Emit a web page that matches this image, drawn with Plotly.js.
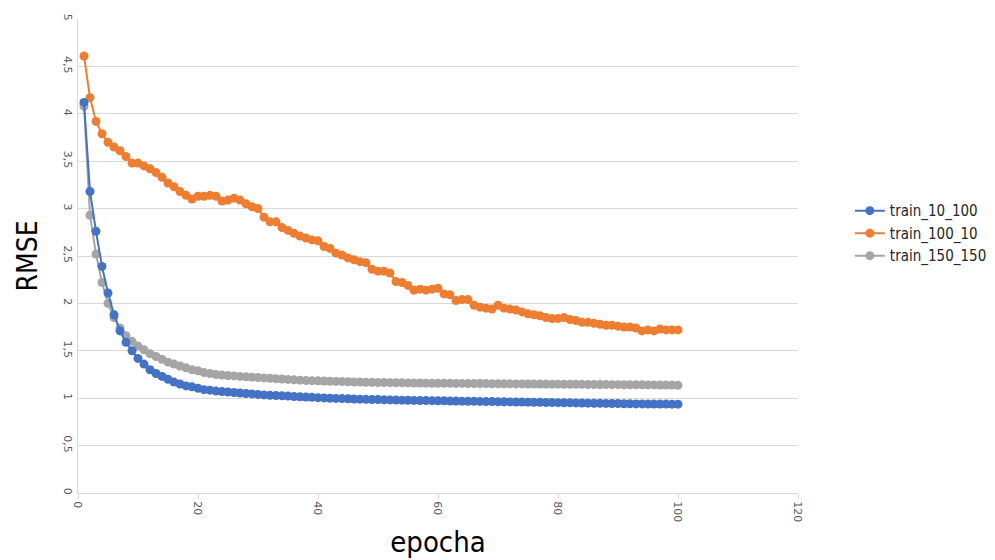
<!DOCTYPE html>
<html>
<head>
<meta charset="utf-8">
<script src="https://cdn.plot.ly/plotly-3.0.1.min.js"></script>
<style>html,body{margin:0;padding:0;background:#fff;}#chart{width:995px;height:560px;}</style>
</head>
<body>
<div id="chart"></div>
<script>
const epochs = Array.from({length: 100}, (_, i) => i + 1);

const train_10_100 = [
  4.12, 3.18, 2.76, 2.39, 2.11, 1.88, 1.71, 1.59, 1.50, 1.42,
  1.36, 1.30, 1.26, 1.23, 1.20, 1.17, 1.15, 1.13, 1.12, 1.105,
  1.09, 1.085, 1.075, 1.07, 1.065, 1.06, 1.055, 1.05, 1.045, 1.04,
  1.035, 1.03, 1.028, 1.025, 1.022, 1.018, 1.015, 1.012, 1.009, 1.006,
  1.003, 1.0, 0.998, 0.996, 0.994, 0.992, 0.99, 0.988, 0.986, 0.985,
  0.983, 0.982, 0.98, 0.979, 0.978, 0.977, 0.976, 0.975, 0.974, 0.973,
  0.972, 0.971, 0.97, 0.969, 0.968, 0.967, 0.966, 0.965, 0.964, 0.963,
  0.962, 0.961, 0.96, 0.959, 0.958, 0.957, 0.956, 0.955, 0.954, 0.953,
  0.952, 0.951, 0.95, 0.949, 0.948, 0.947, 0.946, 0.945, 0.944, 0.943,
  0.942, 0.941, 0.94, 0.94, 0.939, 0.939, 0.938, 0.938, 0.937, 0.937
];

const train_100_10 = [
  4.61, 4.17, 3.92, 3.79, 3.70, 3.65, 3.61, 3.55, 3.48, 3.48,
  3.45, 3.42, 3.38, 3.33, 3.27, 3.23, 3.18, 3.14, 3.10, 3.13,
  3.13, 3.14, 3.13, 3.08, 3.09, 3.11, 3.09, 3.05, 3.02, 3.00,
  2.91, 2.86, 2.86, 2.80, 2.77, 2.74, 2.71, 2.69, 2.67, 2.66,
  2.60, 2.58, 2.53, 2.51, 2.48, 2.46, 2.44, 2.43, 2.36, 2.34,
  2.34, 2.32, 2.23, 2.22, 2.19, 2.14, 2.15, 2.14, 2.15, 2.16,
  2.10, 2.09, 2.03, 2.04, 2.04, 1.98, 1.96, 1.95, 1.94, 1.98,
  1.95, 1.94, 1.93, 1.91, 1.89, 1.88, 1.87, 1.85, 1.84, 1.84,
  1.85, 1.83, 1.82, 1.80, 1.80, 1.79, 1.78, 1.77, 1.77, 1.76,
  1.75, 1.75, 1.74, 1.71, 1.72, 1.71, 1.73, 1.72, 1.72, 1.72
];

const train_150_150 = [
  4.08, 2.93, 2.52, 2.22, 2.00, 1.85, 1.74, 1.66, 1.60, 1.55,
  1.51, 1.47, 1.44, 1.41, 1.38, 1.36, 1.34, 1.32, 1.30, 1.29,
  1.27, 1.26, 1.25, 1.245, 1.24, 1.235, 1.23, 1.225, 1.222, 1.218,
  1.214, 1.21, 1.206, 1.202, 1.198, 1.194, 1.19, 1.187, 1.185, 1.183,
  1.181, 1.179, 1.177, 1.175, 1.173, 1.171, 1.17, 1.168, 1.167, 1.166,
  1.165, 1.164, 1.163, 1.162, 1.161, 1.16, 1.16, 1.159, 1.158, 1.158,
  1.157, 1.157, 1.156, 1.156, 1.155, 1.155, 1.154, 1.154, 1.153, 1.153,
  1.152, 1.152, 1.151, 1.151, 1.15, 1.15, 1.149, 1.149, 1.148, 1.148,
  1.147, 1.147, 1.146, 1.146, 1.145, 1.145, 1.144, 1.144, 1.143, 1.143,
  1.142, 1.142, 1.141, 1.141, 1.14, 1.14, 1.139, 1.139, 1.138, 1.136
];

const seriesNames = ['train_10_100', 'train_100_10', 'train_150_150'];
const seriesColors = ['#4472C4', '#ED7D31', '#A5A5A5'];

function mk(name, y, color, rank) {
  return {
    x: epochs, y: y, name: name, type: 'scatter', mode: 'lines+markers',
    line: {color: color, width: 2},
    marker: {color: color, size: 9},
    legendrank: rank
  };
}

const data = [
  mk(seriesNames[2], train_150_150, seriesColors[2], 3),
  mk(seriesNames[1], train_100_10, seriesColors[1], 2),
  mk(seriesNames[0], train_10_100, seriesColors[0], 1)
];

const TICKFONT = '"DejaVu Sans", sans-serif';
const NARROW = '"DejaVu Sans Condensed", "Liberation Sans Narrow", "Liberation Sans", sans-serif';

const layout = {
  width: 995, height: 560,
  margin: {l: 78, r: 197, t: 19, b: 67, autoexpand: false},
  paper_bgcolor: '#ffffff', plot_bgcolor: '#ffffff',
  separators: ', ',
  font: {family: TICKFONT, color: '#595959', size: 11},
  showlegend: true,
  legend: {
    x: 1.072, y: 0.63, xanchor: 'left', yanchor: 'top',
    font: {family: NARROW, size: 15, color: '#262626'},
    tracegroupgap: 0, itemwidth: 30, bgcolor: 'rgba(0,0,0,0)'
  },
  xaxis: {
    range: [0, 120], dtick: 20, tick0: 0,
    showgrid: false, zeroline: false,
    showline: true, linecolor: '#d9d9d9', linewidth: 1,
    ticks: 'outside', ticklen: 5, tickcolor: '#d9d9d9',
    tickangle: 90,
    tickfont: {family: TICKFONT, size: 11, color: '#595959'},
    title: {text: 'epocha', font: {family: NARROW, size: 29, color: '#000000'}, standoff: 10}
  },
  yaxis: {
    range: [0, 5], dtick: 0.5, tick0: 0,
    showgrid: true, gridcolor: '#d9d9d9', gridwidth: 1,
    zeroline: false,
    showline: true, linecolor: '#d9d9d9', linewidth: 1,
    ticks: '', tickangle: 90,
    tickfont: {family: TICKFONT, size: 11, color: '#595959'},
    title: {text: 'RMSE', font: {family: NARROW, size: 28, color: '#000000'}, standoff: 14}
  }
};

Plotly.newPlot('chart', data, layout, {displayModeBar: false, staticPlot: true});
</script>
</body>
</html>
